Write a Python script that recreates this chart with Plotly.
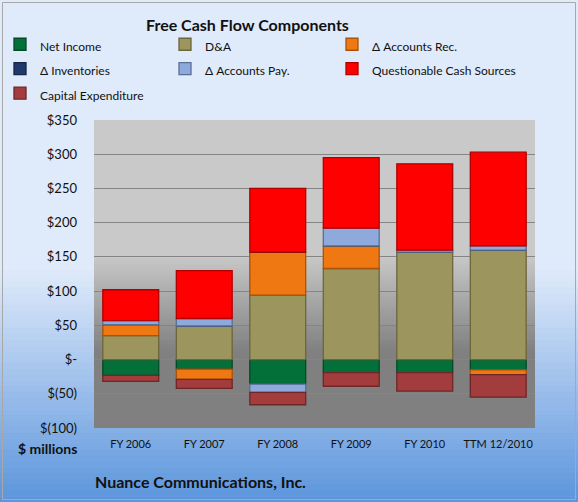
import plotly.graph_objects as go

# ---------------- data ----------------
categories = ["FY 2006", "FY 2007", "FY 2008", "FY 2009", "FY 2010", "TTM 12/2010"]
net_income = [-23, -14, -36, -19, -19, -15]
d_and_a = [35, 49, 94, 133, 157, 160]
accounts_rec = [16, -15, 63, 33, 0, -7]
inventories = [0, 0, 0, 0, 0, 0]
accounts_pay = [6, 11, -12, 26, 3, 6]
questionable_cash = [45, 70, 93, 103, 126, 137]
capital_expenditure = [-9, -13, -18, -20, -27, -33]

y_tick_vals = [-100, -50, 0, 50, 100, 150, 200, 250, 300, 350]
y_tick_text = ["$(100)", "$(50)", "$-", "$50", "$100", "$150", "$200", "$250", "$300", "$350"]

# name, values, fill, edge, legend column
series = [
    ("Net Income", net_income, "#03703a", "#024a26", "legend"),
    ("D&A", d_and_a, "#9c955d", "#6b663c", "legend2"),
    ("Δ Accounts Rec.", accounts_rec, "#f07812", "#a8520a", "legend3"),
    ("Δ Inventories", inventories, "#1f3a6a", "#14264a", "legend"),
    ("Δ Accounts Pay.", accounts_pay, "#8eaadc", "#5a6f96", "legend2"),
    ("Questionable Cash Sources", questionable_cash, "#ff0000", "#b00000", "legend3"),
    ("Capital Expenditure", capital_expenditure, "#a33d3d", "#6e2626", "legend"),
]

FONT = "Lato, 'Open Sans', sans-serif"

fig = go.Figure()
for name, vals, col, edge, lg in series:
    fig.add_trace(go.Bar(
        x=categories, y=vals,
        name="<span style='font-size:12px'>" + name + "</span>",
        legend=lg,
        marker=dict(color=col, line=dict(color=edge, width=1.3)),
        hovertemplate=name + " %{x}: %{y}<extra></extra>",
    ))

# ---------- geometry helpers (plot area in pixels) ----------
W, H = 578, 502
L, R, T, B = 94, 535, 120, 428
def px(x):
    return (x - L) / (R - L)
def py(y):
    return (B - y) / (B - T)
def cx(x):
    return x / W
def cy(y):
    return 1 - y / H

def lerp(c1, c2, t):
    return "rgb(%d,%d,%d)" % tuple(round(a + (b - a) * t) for a, b in zip(c1, c2))

shapes = []
# paper background gradient
top_c, bot_c = (223, 234, 250), (91, 149, 220)
n = 40
y_start, y_end = 270, 502
for i in range(n):
    a = y_start + (y_end - y_start) * i / n
    b = y_start + (y_end - y_start) * (i + 1) / n + 0.6
    shapes.append(dict(type="rect", xref="paper", yref="paper", x0=px(0), x1=px(W),
                       y0=py(b), y1=py(a), fillcolor=lerp(top_c, bot_c, (i + 0.5) / n),
                       line=dict(width=0), layer="below"))
# plot area gradient
p_top, p_bot = (201, 201, 201), (128, 128, 128)
shapes.append(dict(type="rect", xref="paper", yref="paper", x0=0, x1=1,
                   y0=py(256), y1=1, fillcolor=lerp(p_top, p_top, 0),
                   line=dict(width=0), layer="below"))
shapes.append(dict(type="rect", xref="paper", yref="paper", x0=0, x1=1,
                   y0=0, y1=py(350), fillcolor=lerp(p_bot, p_bot, 0),
                   line=dict(width=0), layer="below"))
m = 30
g0, g1 = 255, 351
for i in range(m):
    a = g0 + (g1 - g0) * i / m
    b = g0 + (g1 - g0) * (i + 1) / m + 0.6
    shapes.append(dict(type="rect", xref="paper", yref="paper", x0=0, x1=1,
                       y0=py(b), y1=py(a), fillcolor=lerp(p_top, p_bot, (i + 0.5) / m),
                       line=dict(width=0), layer="below"))
# outer frame
shapes.append(dict(type="rect", xref="paper", yref="paper", x0=px(2.5), x1=px(575.5),
                   y0=py(499.5), y1=py(2.5), line=dict(color="#a8a8a8", width=1),
                   fillcolor="rgba(0,0,0,0)", layer="above"))

annotations = [
    dict(text="<b>Free Cash Flow Components</b>", xref="paper", yref="paper",
         x=px(247), y=py(25), xanchor="center", yanchor="middle", showarrow=False,
         font=dict(family=FONT, size=16, color="#111111")),
    dict(text="<b>$ millions</b>", xref="paper", yref="paper",
         x=px(47), y=py(448), xanchor="center", yanchor="middle", showarrow=False,
         font=dict(family=FONT, size=14, color="#111111")),
    dict(text="<b>Nuance Communications, Inc.</b>", xref="paper", yref="paper",
         x=px(200), y=py(481), xanchor="center", yanchor="middle", showarrow=False,
         font=dict(family=FONT, size=16, color="#111111")),
]

def legend_at(left_x):
    return dict(
        orientation="v", xref="container", yref="container",
        x=cx(left_x), y=cy(27), xanchor="left", yanchor="top",
        font=dict(family=FONT, size=16.5, color="#111111"),
        bgcolor="rgba(0,0,0,0)", traceorder="normal", tracegroupgap=0,
        itemclick=False, itemdoubleclick=False,
    )

fig.update_layout(
    width=W, height=H,
    margin=dict(l=L, r=W - R, t=T, b=H - B, pad=0, autoexpand=False),
    barmode="relative",
    bargap=0.24,
    paper_bgcolor="#dfeafa",
    plot_bgcolor="#c9c9c9",
    font=dict(family=FONT, size=12, color="#111111"),
    shapes=shapes,
    annotations=annotations,
    showlegend=True,
    legend=legend_at(0),
    legend2=legend_at(165),
    legend3=legend_at(332),
    xaxis=dict(
        showgrid=False, zeroline=False, showline=False, ticks="",
        tickfont=dict(family=FONT, size=11, color="#111111"),
        ticklabelstandoff=8, fixedrange=True,
    ),
    yaxis=dict(
        range=[-100, 350], tickmode="array", tickvals=y_tick_vals, ticktext=y_tick_text,
        showgrid=True, gridcolor="#858585", gridwidth=1,
        zeroline=True, zerolinecolor="#858585", zerolinewidth=1,
        showline=False, ticks="",
        tickfont=dict(family=FONT, size=13, color="#111111"),
        ticklabelstandoff=16, fixedrange=True,
    ),
)

fig.write_html("out.html",
               config={"displayModeBar": False},
               post_script="document.body.style.margin='0';document.body.style.overflow='hidden';")
